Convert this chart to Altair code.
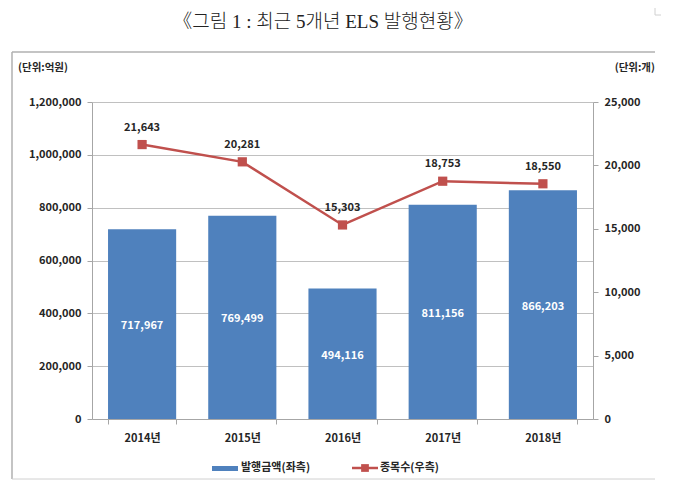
import altair as alt
import pandas as pd

years = ["2014년", "2015년", "2016년", "2017년", "2018년"]
amounts = [717967, 769499, 494116, 811156, 866203]
counts = [21643, 20281, 15303, 18753, 18550]
left_ticks = [0, 200000, 400000, 600000, 800000, 1000000, 1200000]
right_ticks = [0, 5000, 10000, 15000, 20000, 25000]

FONT = "Noto Sans CJK KR"
BLUE = "#4f81bd"
RED = "#c0504d"
GRID = "#c0c0c0"
TXT = "#262626"

df = pd.DataFrame({"year": years, "amount": amounts, "count": counts})
df["half"] = df["amount"] / 2

xscale = alt.Scale(domain=years, paddingInner=0.32, paddingOuter=0.16)
x_axis = alt.Axis(title=None, labelAngle=0, tickBand="extent", labelFont=FONT,
                  labelFontWeight="bold", labelFontSize=11, labelColor=TXT,
                  domainColor="#a6a6a6", tickColor="#a6a6a6", tickSize=5,
                  labelPadding=8, grid=False)
X = alt.X("year:N", scale=xscale, axis=x_axis)

lscale = alt.Scale(domain=[0, 1200000], nice=False, zero=True)
rscale = alt.Scale(domain=[0, 25000], nice=False, zero=True)

base = alt.Chart(df)

bars = base.mark_bar(color=BLUE).encode(
    x=X,
    y=alt.Y("amount:Q", scale=lscale, axis=alt.Axis(
        title=None, values=left_ticks, format=",d", labelFont=FONT,
        labelFontWeight="bold", labelFontSize=11, labelColor=TXT,
        grid=True, gridColor=GRID, domainColor="#a6a6a6", tickColor="#a6a6a6",
        tickSize=5, labelPadding=6)),
)
bar_text = base.mark_text(color="white", font=FONT, fontWeight="bold", fontSize=11, dy=2).encode(
    x=X,
    y=alt.Y("half:Q", scale=lscale, axis=None),
    text=alt.Text("amount:Q", format=",d"),
)

line = base.mark_line(color=RED, strokeWidth=2.5).encode(
    x=X,
    y=alt.Y("count:Q", scale=rscale, axis=alt.Axis(
        title=None, orient="right", values=right_ticks, format=",d", labelFont=FONT,
        labelFontWeight="bold", labelFontSize=11, labelColor=TXT,
        grid=False, domainColor="#a6a6a6", tickColor="#a6a6a6",
        tickSize=5, labelPadding=6)),
)
pts = base.mark_point(shape="square", filled=True, opacity=1, color=RED, size=85).encode(
    x=X,
    y=alt.Y("count:Q", scale=rscale, axis=None),
)
line_text = base.mark_text(color=TXT, font=FONT, fontWeight="bold", fontSize=11, dy=-17).encode(
    x=X,
    y=alt.Y("count:Q", scale=rscale, axis=None),
    text=alt.Text("count:Q", format=",d"),
)

one = alt.Chart(pd.DataFrame({"a": [0]}))

title = one.mark_text(text="《그림 1 : 최근 5개년 ELS 발행현황》",
                      font="Liberation Serif, 'Noto Sans CJK KR'", fontSize=19, fontWeight=300,
                      color="#222222", align="center", baseline="middle").encode(
    x=alt.value(231), y=alt.value(-80))
unit_l = one.mark_text(text="(단위:억원)", font=FONT, fontSize=10.5, fontWeight="bold",
                       color=TXT, align="left", baseline="middle").encode(
    x=alt.value(-74), y=alt.value(-34))
unit_r = one.mark_text(text="(단위:개)", font=FONT, fontSize=10.5, fontWeight="bold",
                       color=TXT, align="right", baseline="middle").encode(
    x=alt.value(563), y=alt.value(-34))

frame_l = one.mark_rule(color="#b0b0b0", strokeWidth=1.5).encode(
    x=alt.value(-80), y=alt.value(-50), y2=alt.value(377))
frame_t = one.mark_rule(color="#b0b0b0", strokeWidth=1.5).encode(
    x=alt.value(-80), x2=alt.value(563), y=alt.value(-50))
frame_b = one.mark_rule(color="#d0d0d0", strokeWidth=1).encode(
    x=alt.value(-80), x2=alt.value(563), y=alt.value(377))
corner_v = one.mark_rule(color="#d0d0d0", strokeWidth=1).encode(
    x=alt.value(563), y=alt.value(-94), y2=alt.value(-87))
corner_h = one.mark_rule(color="#d0d0d0", strokeWidth=1).encode(
    x=alt.value(563), x2=alt.value(569), y=alt.value(-87))

leg_rect = one.mark_rect(color=BLUE).encode(
    x=alt.value(120), x2=alt.value(146), y=alt.value(364), y2=alt.value(369))
leg_t1 = one.mark_text(text="발행금액(좌측)", font=FONT, fontSize=11, fontWeight="bold",
                       color=TXT, align="left", baseline="middle").encode(
    x=alt.value(149), y=alt.value(366))
leg_line = one.mark_rule(color=RED, strokeWidth=2.5).encode(
    x=alt.value(260), x2=alt.value(286), y=alt.value(366))
leg_pt = one.mark_point(shape="square", filled=True, opacity=1, color=RED, size=60).encode(
    x=alt.value(273), y=alt.value(366))
leg_t2 = one.mark_text(text="종목수(우측)", font=FONT, fontSize=11, fontWeight="bold",
                       color=TXT, align="left", baseline="middle").encode(
    x=alt.value(288), y=alt.value(366))

chart = alt.layer(
    bars, bar_text, line, pts, line_text,
    title, unit_l, unit_r, frame_l, frame_t, frame_b, corner_v, corner_h,
    leg_rect, leg_t1, leg_line, leg_pt, leg_t2,
).resolve_scale(y="independent").properties(
    width=501, height=317,
    autosize=alt.AutoSizeParams(type="none"),
    padding={"left": 84, "top": 94, "right": 78, "bottom": 62},
    background="white",
).configure_view(stroke=None)

chart.save("out.html", embed_options={"renderer": "svg", "actions": False})
